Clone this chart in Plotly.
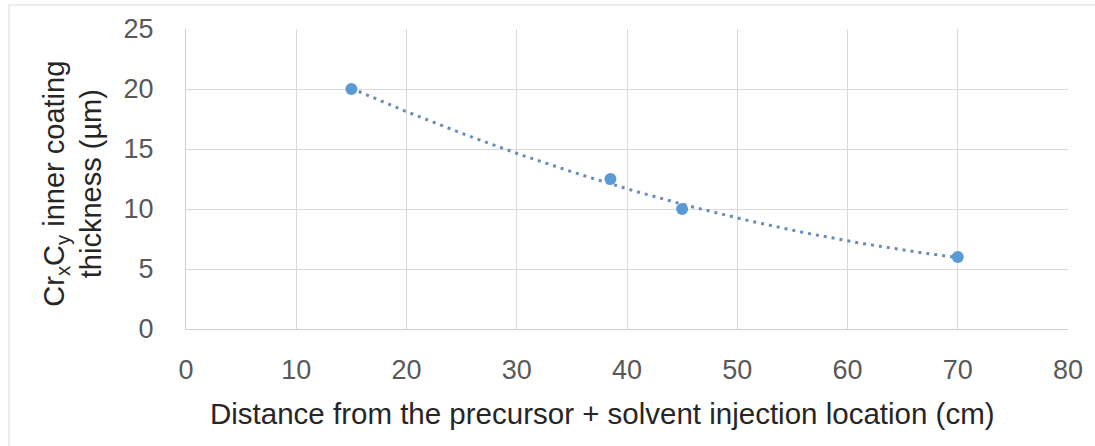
import numpy as np
import plotly.graph_objects as go

# Data
distance_cm = [15, 38.5, 45, 70]
thickness_um = [20, 12.5, 10, 6]
x_ticks = [0, 10, 20, 30, 40, 50, 60, 70, 80]
y_ticks = [0, 5, 10, 15, 20, 25]

# Excel-style 2nd-order polynomial trendline computed from the data
coef = np.polyfit(distance_cm, thickness_um, 2)
tx = np.linspace(min(distance_cm), max(distance_cm), 200)
ty = np.polyval(coef, tx)

FONT = "Liberation Sans, Arial"
W, H = 1095, 446
ML, MR, MT, MB = 186, 22, 29, 117
PW, PH = W - ML - MR, H - MT - MB

def px(x):
    return (x - ML) / PW

def py(y):
    return (H - MB - y) / PH

fig = go.Figure()
fig.add_trace(go.Scatter(x=tx, y=ty, mode="lines",
                         line=dict(color="#6a8cb8", width=3, dash="3px,5px"),
                         hoverinfo="skip", showlegend=False))
fig.add_trace(go.Scatter(x=distance_cm, y=thickness_um, mode="markers",
                         marker=dict(color="#5b9bd5", size=12),
                         showlegend=False))

fig.update_layout(
    width=W, height=H,
    margin=dict(l=ML, r=MR, t=MT, b=MB),
    paper_bgcolor="white", plot_bgcolor="white",
    font=dict(family=FONT, size=27, color="#595959"),
    xaxis=dict(range=[0, 80], tickvals=x_ticks, showgrid=True,
               gridcolor="#d9d9d9", gridwidth=1, zeroline=False,
               showline=True, linecolor="#d0d0d0",
               ticks="", ticklabelstandoff=17),
    yaxis=dict(range=[0, 25], tickvals=y_ticks, showgrid=True,
               gridcolor="#d9d9d9", gridwidth=1, zeroline=False,
               showline=True, linecolor="#d0d0d0", ticks="", ticklabelstandoff=26),
    annotations=[
        dict(text="Distance from the precursor + solvent injection location (cm)",
             xref="paper", yref="paper", x=px(605), y=py(414),
             xanchor="center", yanchor="middle", showarrow=False,
             font=dict(family=FONT, size=29.5, color="#262626")),
        dict(text="Cr<sub>x</sub>C<sub>y</sub> inner coating<br>thickness (µm)",
             xref="paper", yref="paper", x=px(72), y=py(184),
             xanchor="center", yanchor="middle", showarrow=False, textangle=-90,
             font=dict(family=FONT, size=29, color="#262626")),
    ],
    shapes=[dict(type="rect", xref="paper", yref="paper",
                 x0=px(8), x1=px(1110), y0=py(460), y1=py(5),
                 line=dict(color="#d9d9d9", width=1))],
)

fig.write_html("out.html", config={"displayModeBar": False},
               post_script="document.body.style.margin='0';document.body.style.overflow='hidden';")
